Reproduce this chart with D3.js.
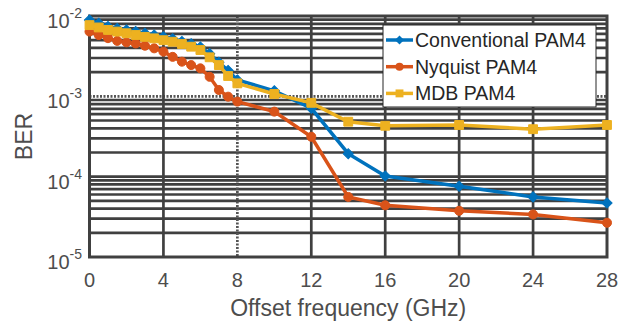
<!DOCTYPE html>
<html>
<head>
<meta charset="utf-8">
<script src="https://cdn.jsdelivr.net/npm/d3@7"></script>
<style>
  body { margin: 0; background: #fff; }
  text { font-family: "Liberation Sans", Arial, sans-serif; }
</style>
</head>
<body>
<div id="chart"></div>
<script>
// offset frequency (GHz)
var freq = [0, 0.5, 1, 1.5, 2, 2.5, 3, 3.5, 4, 4.5, 5, 5.5, 6, 6.5, 7, 7.5, 8, 10, 12, 14, 16, 20, 24, 28];

var conventional = [8.9e-3, 8.1e-3, 7.4e-3, 7.0e-3, 6.7e-3, 6.4e-3, 6.1e-3, 5.8e-3, 5.5e-3, 5.2e-3, 4.8e-3, 4.5e-3,
                    4.1e-3, 3.4e-3, 2.65e-3, 2.1e-3, 1.6e-3, 1.17e-3, 7.1e-4, 1.93e-4, 1.02e-4, 7.6e-5, 5.6e-5, 4.7e-5];
var nyquist = [6.4e-3, 5.8e-3, 5.3e-3, 4.9e-3, 4.7e-3, 4.55e-3, 4.27e-3, 3.96e-3, 3.6e-3, 3.1e-3, 2.7e-3, 2.45e-3,
               2.23e-3, 1.75e-3, 1.2e-3, 9.9e-4, 8.6e-4, 6.45e-4, 3.14e-4, 5.6e-5, 4.4e-5, 3.76e-5, 3.39e-5, 2.67e-5];
var mdb = [7.7e-3, 7.2e-3, 6.7e-3, 6.4e-3, 6.1e-3, 5.8e-3, 5.5e-3, 5.27e-3, 5.0e-3, 4.78e-3, 4.48e-3, 4.15e-3,
           3.77e-3, 3.06e-3, 2.45e-3, 1.79e-3, 1.45e-3, 1.07e-3, 8.3e-4, 4.83e-4, 4.3e-4, 4.4e-4, 3.9e-4, 4.4e-4];

var seriesNames = ["Conventional PAM4", "Nyquist PAM4", "MDB PAM4"];
var xTicks = [0, 4, 8, 12, 16, 20, 24, 28];
var yDecades = [-5, -4, -3, -2];

var W = 629, H = 326;
var pL = 89.5, pR = 607, pT = 16, pB = 257;
var gridColor = "#404040";

var svg = d3.select("#chart").append("svg")
    .attr("width", W)
    .attr("height", H);

var x = d3.scaleLinear().domain([0, 28]).range([pL, pR]);
var y = d3.scaleLog().domain([1e-5, 1e-2]).range([pB, pT]);

// minor grid (2..9 in each decade)
var minors = [];
yDecades.slice(0, 3).forEach(function (e) {
  for (var m = 2; m <= 9; m++) minors.push(m * Math.pow(10, e));
});

var grid = svg.append("g");
grid.selectAll(".minor")
    .data(minors)
  .enter().append("line")
    .attr("x1", pL).attr("x2", pR)
    .attr("y1", function (d) { return y(d); })
    .attr("y2", function (d) { return y(d); })
    .attr("stroke", gridColor)
    .attr("stroke-width", 2.7);

// decade lines
grid.selectAll(".major")
    .data([1e-4, 1e-3])
  .enter().append("line")
    .attr("x1", pL).attr("x2", pR)
    .attr("y1", function (d) { return y(d); })
    .attr("y2", function (d) { return y(d); })
    .attr("stroke", function (d) { return d === 1e-3 ? "#555" : gridColor; })
    .attr("stroke-dasharray", function (d) { return d === 1e-3 ? "2,1.5" : null; })
    .attr("stroke-width", 2.7);

grid.selectAll(".vgrid")
    .data(xTicks.slice(1, -1))
  .enter().append("line")
    .attr("x1", function (d) { return x(d); })
    .attr("x2", function (d) { return x(d); })
    .attr("y1", pT).attr("y2", pB)
    .attr("stroke", function (d) { return d === 8 ? "#555" : gridColor; })
    .attr("stroke-dasharray", function (d) { return d === 8 ? "2,1.5" : null; })
    .attr("stroke-width", 2.7);

// axes box
svg.append("rect")
    .attr("x", pL).attr("y", pT)
    .attr("width", pR - pL).attr("height", pB - pT)
    .attr("fill", "none")
    .attr("stroke", gridColor)
    .attr("stroke-width", 3);

// x tick labels
svg.append("g").selectAll("text")
    .data(xTicks)
  .enter().append("text")
    .attr("x", function (d) { return x(d); })
    .attr("y", 287)
    .attr("text-anchor", "middle")
    .attr("font-size", 20)
    .attr("fill", "#4d4d4d")
    .text(function (d) { return d; });

// y tick labels 10^e
var yl = svg.append("g").selectAll("text")
    .data(yDecades)
  .enter().append("text")
    .attr("x", 82)
    .attr("y", function (d) { return y(Math.pow(10, d)) + 12; })
    .attr("text-anchor", "end")
    .attr("font-size", 20)
    .attr("fill", "#4d4d4d");
yl.append("tspan").text("10");
yl.append("tspan")
    .attr("font-size", 14)
    .attr("dy", -10)
    .text(function (d) { return "-" + (-d); });

// axis titles
svg.append("text")
    .attr("x", (pL + pR) / 2)
    .attr("y", 316)
    .attr("text-anchor", "middle")
    .attr("font-size", 23)
    .attr("fill", "#4d4d4d")
    .text("Offset frequency (GHz)");

svg.append("text")
    .attr("transform", "translate(32," + ((pT + pB) / 2) + ") rotate(-90)")
    .attr("text-anchor", "middle")
    .attr("font-size", 23)
    .attr("fill", "#4d4d4d")
    .text("BER");

// series
var colors = ["#0072BD", "#D95319", "#EDB120"];
var shapes = [d3.symbolSquare, d3.symbolCircle, d3.symbolSquare];
var sizes = [52, 64, 78];
var rot = [45, 0, 0];
var allSeries = [conventional, nyquist, mdb];

var line = d3.line()
    .x(function (d) { return x(d[0]); })
    .y(function (d) { return y(d[1]); });

allSeries.forEach(function (vals, i) {
  var pts = freq.map(function (f, j) { return [f, vals[j]]; });
  var g = svg.append("g");
  g.append("path")
      .datum(pts)
      .attr("d", line)
      .attr("fill", "none")
      .attr("stroke", colors[i])
      .attr("stroke-width", 3.5);
  g.selectAll("path.m")
      .data(pts)
    .enter().append("path")
      .attr("class", "m")
      .attr("transform", function (d) {
        return "translate(" + x(d[0]) + "," + y(d[1]) + ") rotate(" + rot[i] + ")";
      })
      .attr("d", d3.symbol().type(shapes[i]).size(sizes[i]))
      .attr("fill", colors[i])
      .attr("stroke", colors[i])
      .attr("stroke-width", 1);
});

// legend
var lg = svg.append("g");
lg.append("rect")
    .attr("x", 383).attr("y", 25)
    .attr("width", 213).attr("height", 82)
    .attr("fill", "#fff")
    .attr("stroke", "#262626")
    .attr("stroke-width", 1);

seriesNames.forEach(function (name, i) {
  var cy = 40 + i * 26.7;
  lg.append("line")
      .attr("x1", 386).attr("x2", 413)
      .attr("y1", cy).attr("y2", cy)
      .attr("stroke", colors[i])
      .attr("stroke-width", 3.5);
  lg.append("path")
      .attr("transform", "translate(399.5," + cy + ") rotate(" + rot[i] + ")")
      .attr("d", d3.symbol().type(shapes[i]).size(sizes[i] * 0.8))
      .attr("fill", colors[i]);
  lg.append("text")
      .attr("x", 415)
      .attr("y", cy + 7)
      .attr("font-size", 19.5)
      .attr("fill", "#262626")
      .text(name);
});
</script>
</body>
</html>
